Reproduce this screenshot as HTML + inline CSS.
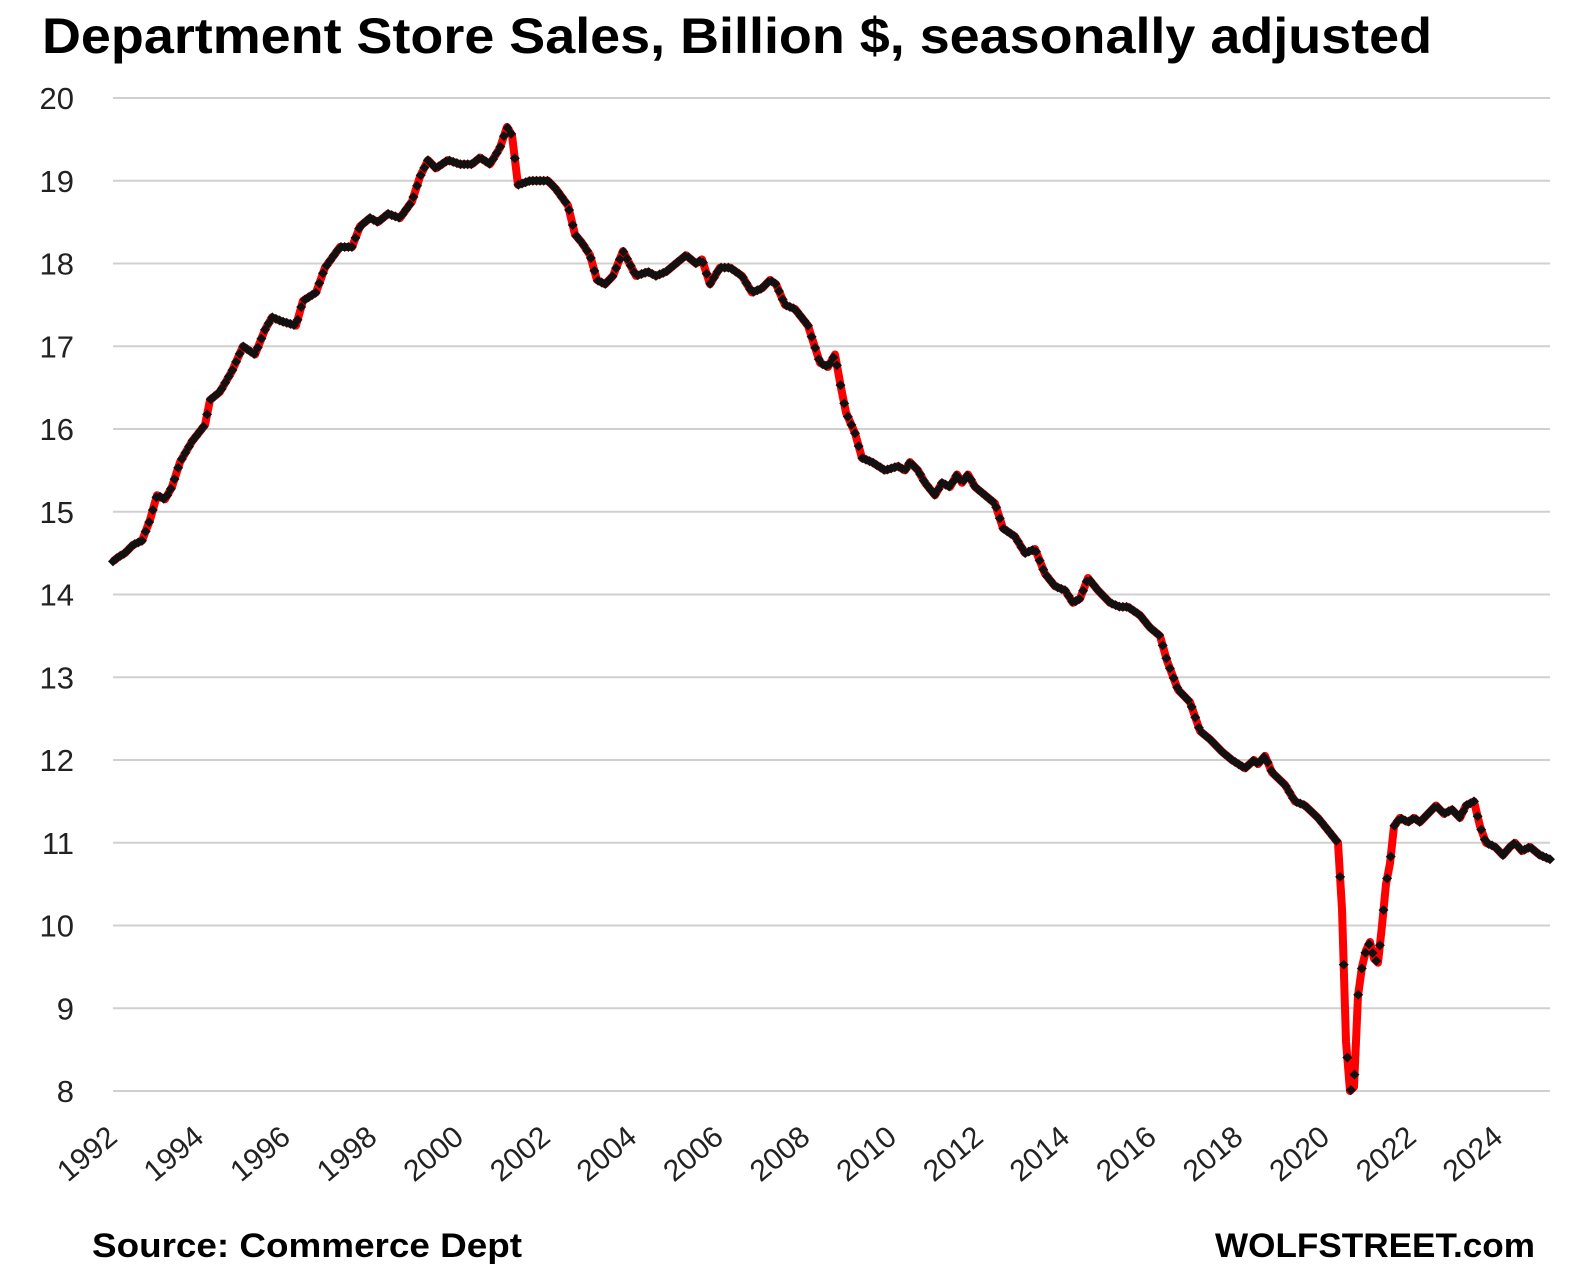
<!DOCTYPE html>
<html><head><meta charset="utf-8"><style>
html,body{margin:0;padding:0;background:#fff;}
svg{display:block;font-family:"Liberation Sans",sans-serif;}
</style></head><body>
<svg id="c" width="1578" height="1284" viewBox="0 0 1578 1284" xmlns="http://www.w3.org/2000/svg">
<text x="42" y="53" font-size="50" font-weight="bold" textLength="1390" lengthAdjust="spacingAndGlyphs">Department Store Sales, Billion $, seasonally adjusted</text>
<g id="grid" stroke="#d0d0d0" stroke-width="2"></g>
<g id="ylab" font-size="31" text-anchor="end" fill="#222"></g>
<g id="xlab" font-size="30" text-anchor="end" fill="#222"></g>
<g id="series"></g>
<text x="92" y="1257" font-size="34" font-weight="bold" textLength="430" lengthAdjust="spacingAndGlyphs">Source: Commerce Dept</text>
<text x="1535" y="1257" font-size="34" font-weight="bold" text-anchor="end" textLength="320" lengthAdjust="spacingAndGlyphs">WOLFSTREET.com</text>
</svg>
<script>
var NS="http://www.w3.org/2000/svg";
function el(t,a,p,txt){var e=document.createElementNS(NS,t);for(var k in a)e.setAttribute(k,a[k]);if(txt!=null)e.textContent=txt;document.getElementById(p).appendChild(e);return e;}
function Y(v){return 98+(20-v)*82.75;}
for(var v=8;v<=20;v++){var y=Y(v);el("line",{x1:113,x2:1550,y1:y,y2:y},"grid");el("text",{x:74,y:y+11},"ylab",v);}
for(var yr=1992;yr<=2024;yr+=2){var x=113+(yr-1992)*43.3+6;el("text",{x:x,y:1140,transform:"rotate(-40 "+x+" 1140)"},"xlab",yr);}
var P=[113,14.4,118,14.45,125,14.5,133,14.6,142,14.65,150,14.9,157,15.2,165,15.15,172,15.3,180,15.6,192,15.85,205,16.05,210,16.35,220,16.45,232,16.7,243,17.0,255,16.9,265,17.2,272,17.35,282,17.3,296,17.25,303,17.55,316,17.65,325,17.95,340,18.2,352,18.2,360,18.45,370,18.55,378,18.5,388,18.6,400,18.55,412,18.75,420,19.05,428,19.25,436,19.15,448,19.25,460,19.2,472,19.2,480,19.28,490,19.2,500,19.4,507,19.65,512,19.55,518,18.95,530,19.0,538,19.0,548,19.0,556,18.9,568,18.7,575,18.35,582,18.25,590,18.1,597,17.8,605,17.75,613,17.85,623,18.15,636,17.85,648,17.9,656,17.85,666,17.9,676,18.0,686,18.1,696,18.0,702,18.05,710,17.75,720,17.95,730,17.95,742,17.85,752,17.65,762,17.7,770,17.8,776,17.75,785,17.5,795,17.45,808,17.25,820,16.8,828,16.75,835,16.9,841,16.5,846,16.2,855,15.95,862,15.65,872,15.6,885,15.5,898,15.55,905,15.5,910,15.6,918,15.5,925,15.35,935,15.2,942,15.35,950,15.3,957,15.45,962,15.35,968,15.45,975,15.3,985,15.2,995,15.1,1003,14.8,1015,14.7,1025,14.5,1035,14.55,1045,14.25,1055,14.1,1065,14.05,1073,13.9,1080,13.95,1088,14.2,1098,14.05,1110,13.9,1120,13.85,1128,13.85,1140,13.75,1150,13.6,1160,13.5,1167,13.2,1178,12.85,1190,12.7,1200,12.35,1210,12.25,1222,12.1,1232,12.0,1245,11.9,1254,12.0,1258,11.95,1265,12.05,1272,11.85,1285,11.7,1295,11.5,1305,11.45,1318,11.3,1328,11.15,1338,11.0,1342,10.2,1346,8.6,1350,8.0,1354,8.05,1358,9.15,1362,9.5,1366,9.7,1370,9.8,1374,9.6,1378,9.55,1382,10.0,1386,10.5,1390,10.75,1394,11.2,1400,11.3,1408,11.25,1414,11.3,1420,11.25,1428,11.35,1436,11.45,1444,11.35,1452,11.4,1460,11.3,1466,11.45,1474,11.5,1480,11.2,1486,11.0,1495,10.95,1503,10.85,1510,10.95,1515,11.0,1522,10.9,1530,10.95,1540,10.85,1550,10.8];
var pts=[];for(var i=0;i<P.length;i+=2)pts.push(P[i].toFixed(1)+","+Y(P[i+1]).toFixed(1));
el("polyline",{points:pts.join(" "),fill:"none",stroke:"#ff0000","stroke-width":8,"stroke-linejoin":"round"},"series");
function interp(x){for(var i=0;i<P.length-2;i+=2){if(x>=P[i]&&x<=P[i+2]){var t=(x-P[i])/(P[i+2]-P[i]);return P[i+1]+t*(P[i+3]-P[i+1]);}}return P[P.length-1];}
var d="";var step=(1550-113)/397;
for(var k=0;k<=397;k++){var x=113+k*step,y=Y(interp(x));d+="M"+x.toFixed(1)+" "+(y-5).toFixed(1)+"l5 5l-5 5l-5 -5z";}
el("path",{d:d,fill:"#111"},"series");
</script>
</body></html>
